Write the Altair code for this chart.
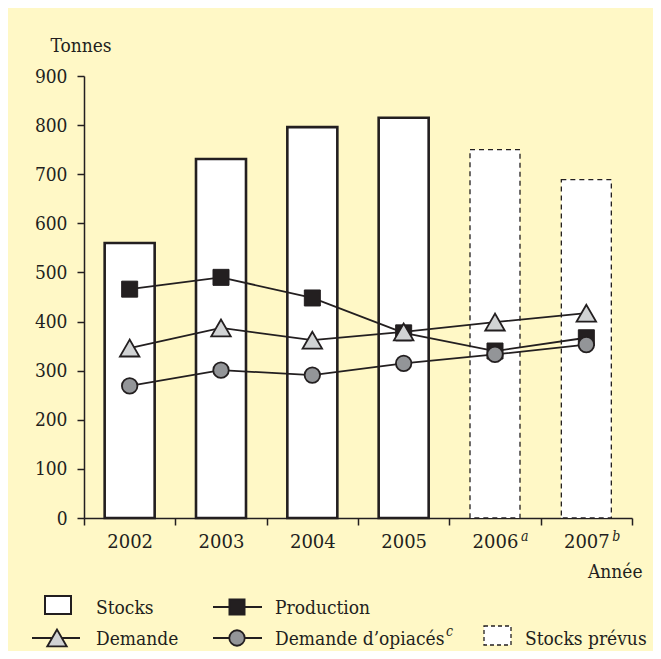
import altair as alt
import pandas as pd

years = ["2002", "2003", "2004", "2005", "2006", "2007"]
year_sups = ["", "", "", "", "a", "b"]
stocks = [560, 731, 796, 815, None, None]
stocks_prevus = [None, None, None, None, 750, 689]
production = [466, 490, 448, 377, 340, 367]
demande = [346, 387, 362, 379, 399, 417]
demande_opiaces = [269, 301, 291, 315, 333, 353]
legend_labels = ["Stocks", "Production", "Demande", "Demande d’opiacés", "Stocks prévus"]
legend_sup = "c"
y_ticks = [0, 100, 200, 300, 400, 500, 600, 700, 800, 900]

INK = "#231f20"
BG = "#FFF8C6"
FONT = "DejaVu Serif Condensed"
FONT2 = "DejaVu Serif"
FS = 19
W, H = 548, 442
OX, OY = 84, 76  # page position of plot origin


def series_df(vals):
    return pd.DataFrame({"year": years, "value": vals}).dropna()


x_axis = alt.Axis(
    title="Année", tickBand="extent", tickSize=7, tickWidth=1.5, tickColor=INK,
    domainColor=INK, domainWidth=1.5, labelFont=FONT2, labelFontSize=18,
    labelColor=INK, labelAngle=0, labelBaseline="alphabetic", labelPadding=22,
    titleFont=FONT, titleFontSize=FS, titleFontWeight="normal", titleColor=INK,
    titleAnchor="start", titleAlign="right", titleBaseline="middle",
    titleX=558, titleY=53,
)
y_axis = alt.Axis(
    title="Tonnes", values=y_ticks, tickSize=7, tickWidth=1.5, tickColor=INK,
    domainColor=INK, domainWidth=1.5, grid=False, labelFont=FONT,
    labelFontSize=FS, labelColor=INK, labelPadding=10,
    titleFont=FONT, titleFontSize=FS, titleFontWeight="normal", titleColor=INK,
    titleAngle=0, titleAlign="left", titleBaseline="middle", titleX=-34, titleY=-31,
)
x_scale = alt.Scale(domain=years, paddingInner=0, paddingOuter=0)
y_scale = alt.Scale(domain=[0, 900], nice=False)


def X():
    return alt.X("year:N", sort=years, scale=x_scale, axis=x_axis)


def Y():
    return alt.Y("value:Q", scale=y_scale, axis=y_axis)


bar_w = alt.RelativeBandSize(50 / (W / 6))

bars = alt.Chart(series_df(stocks)).mark_bar(
    width=bar_w, fill="white", stroke=INK, strokeWidth=2.6
).encode(x=X(), y=Y())
bars_prev = alt.Chart(series_df(stocks_prevus)).mark_bar(
    width=bar_w, fill="white", stroke=INK, strokeWidth=1.3, strokeDash=[5, 4]
).encode(x=X(), y=Y())


def line_layer(vals):
    return alt.Chart(series_df(vals)).mark_line(color=INK, strokeWidth=1.8).encode(x=X(), y=Y())


prod_pts = alt.Chart(series_df(production)).mark_point(
    shape="square", filled=True, fill=INK, stroke=INK, strokeWidth=1, size=256, opacity=1
).encode(x=X(), y=Y())
dem_pts = alt.Chart(series_df(demande)).mark_point(
    shape="triangle-up", filled=True, fill="#d1d3d4", stroke=INK, strokeWidth=1.8, size=380, opacity=1
).encode(x=X(), y=Y())
op_pts = alt.Chart(series_df(demande_opiaces)).mark_point(
    shape="circle", filled=True, fill="#939598", stroke=INK, strokeWidth=1.8, size=240, opacity=1
).encode(x=X(), y=Y())

sup_df = pd.DataFrame({"year": years, "sup": year_sups})
sups = alt.Chart(sup_df).mark_text(
    font=FONT, fontSize=14, fontStyle="italic", color=INK, align="left",
    baseline="alphabetic", dx=26
).encode(x=X(), y=alt.value(541 - OY), text="sup:N")


def px(v):
    return alt.value(v - OX)


def py(v):
    return alt.value(v - OY)


one = pd.DataFrame({"k": [0]})


def label(text, xpage, ypage):
    return alt.Chart(pd.DataFrame({"label": [text]})).mark_text(
        font=FONT, fontSize=FS, color=INK, align="left", baseline="alphabetic"
    ).encode(x=px(xpage), y=py(ypage), text="label:N")


leg = []
leg.append(alt.Chart(one).mark_rect(fill="white", stroke=INK, strokeWidth=2).encode(
    x=px(45), x2=px(71), y=py(596), y2=py(614)))
leg.append(label(legend_labels[0], 96, 614))
leg.append(alt.Chart(one).mark_rule(color=INK, strokeWidth=1.8).encode(
    x=px(213), x2=px(262), y=py(607)))
leg.append(alt.Chart(one).mark_point(shape="square", filled=True, fill=INK, stroke=INK,
                                     size=225, opacity=1).encode(x=px(237), y=py(607)))
leg.append(label(legend_labels[1], 275, 614))
leg.append(alt.Chart(one).mark_rule(color=INK, strokeWidth=1.8).encode(
    x=px(32), x2=px(80), y=py(638)))
leg.append(alt.Chart(one).mark_point(shape="triangle-up", filled=True, fill="#d1d3d4", stroke=INK,
                                     strokeWidth=1.8, size=380, opacity=1).encode(x=px(57), y=py(638)))
leg.append(label(legend_labels[2], 96, 645))
leg.append(alt.Chart(one).mark_rule(color=INK, strokeWidth=1.8).encode(
    x=px(213), x2=px(262), y=py(638)))
leg.append(alt.Chart(one).mark_point(shape="circle", filled=True, fill="#939598", stroke=INK,
                                     strokeWidth=1.8, size=240, opacity=1).encode(x=px(237), y=py(638)))
leg.append(label(legend_labels[3], 275, 645))
leg.append(alt.Chart(pd.DataFrame({"label": [legend_sup]})).mark_text(
    font=FONT, fontSize=14, fontStyle="italic", color=INK, align="left", baseline="alphabetic"
).encode(x=px(446), y=py(636), text="label:N"))
leg.append(alt.Chart(one).mark_rect(fill="white", stroke=INK, strokeWidth=1.3, strokeDash=[4, 3]).encode(
    x=px(484), x2=px(511), y=py(626), y2=py(645)))
leg.append(label(legend_labels[4], 525, 645))

chart = alt.layer(
    bars, bars_prev,
    line_layer(production), prod_pts,
    line_layer(demande), dem_pts,
    line_layer(demande_opiaces), op_pts,
    sups, *leg,
).properties(
    width=W, height=H,
    padding={"left": OX - 8, "top": OY - 8, "right": 645 - (OX - 8) - W, "bottom": 643 - (OY - 8) - H},
    autosize=alt.AutoSizeParams(type="none"),
).configure(background=BG).configure_view(strokeWidth=0)

chart.save("out.html", embed_options={"renderer": "svg", "actions": False})
